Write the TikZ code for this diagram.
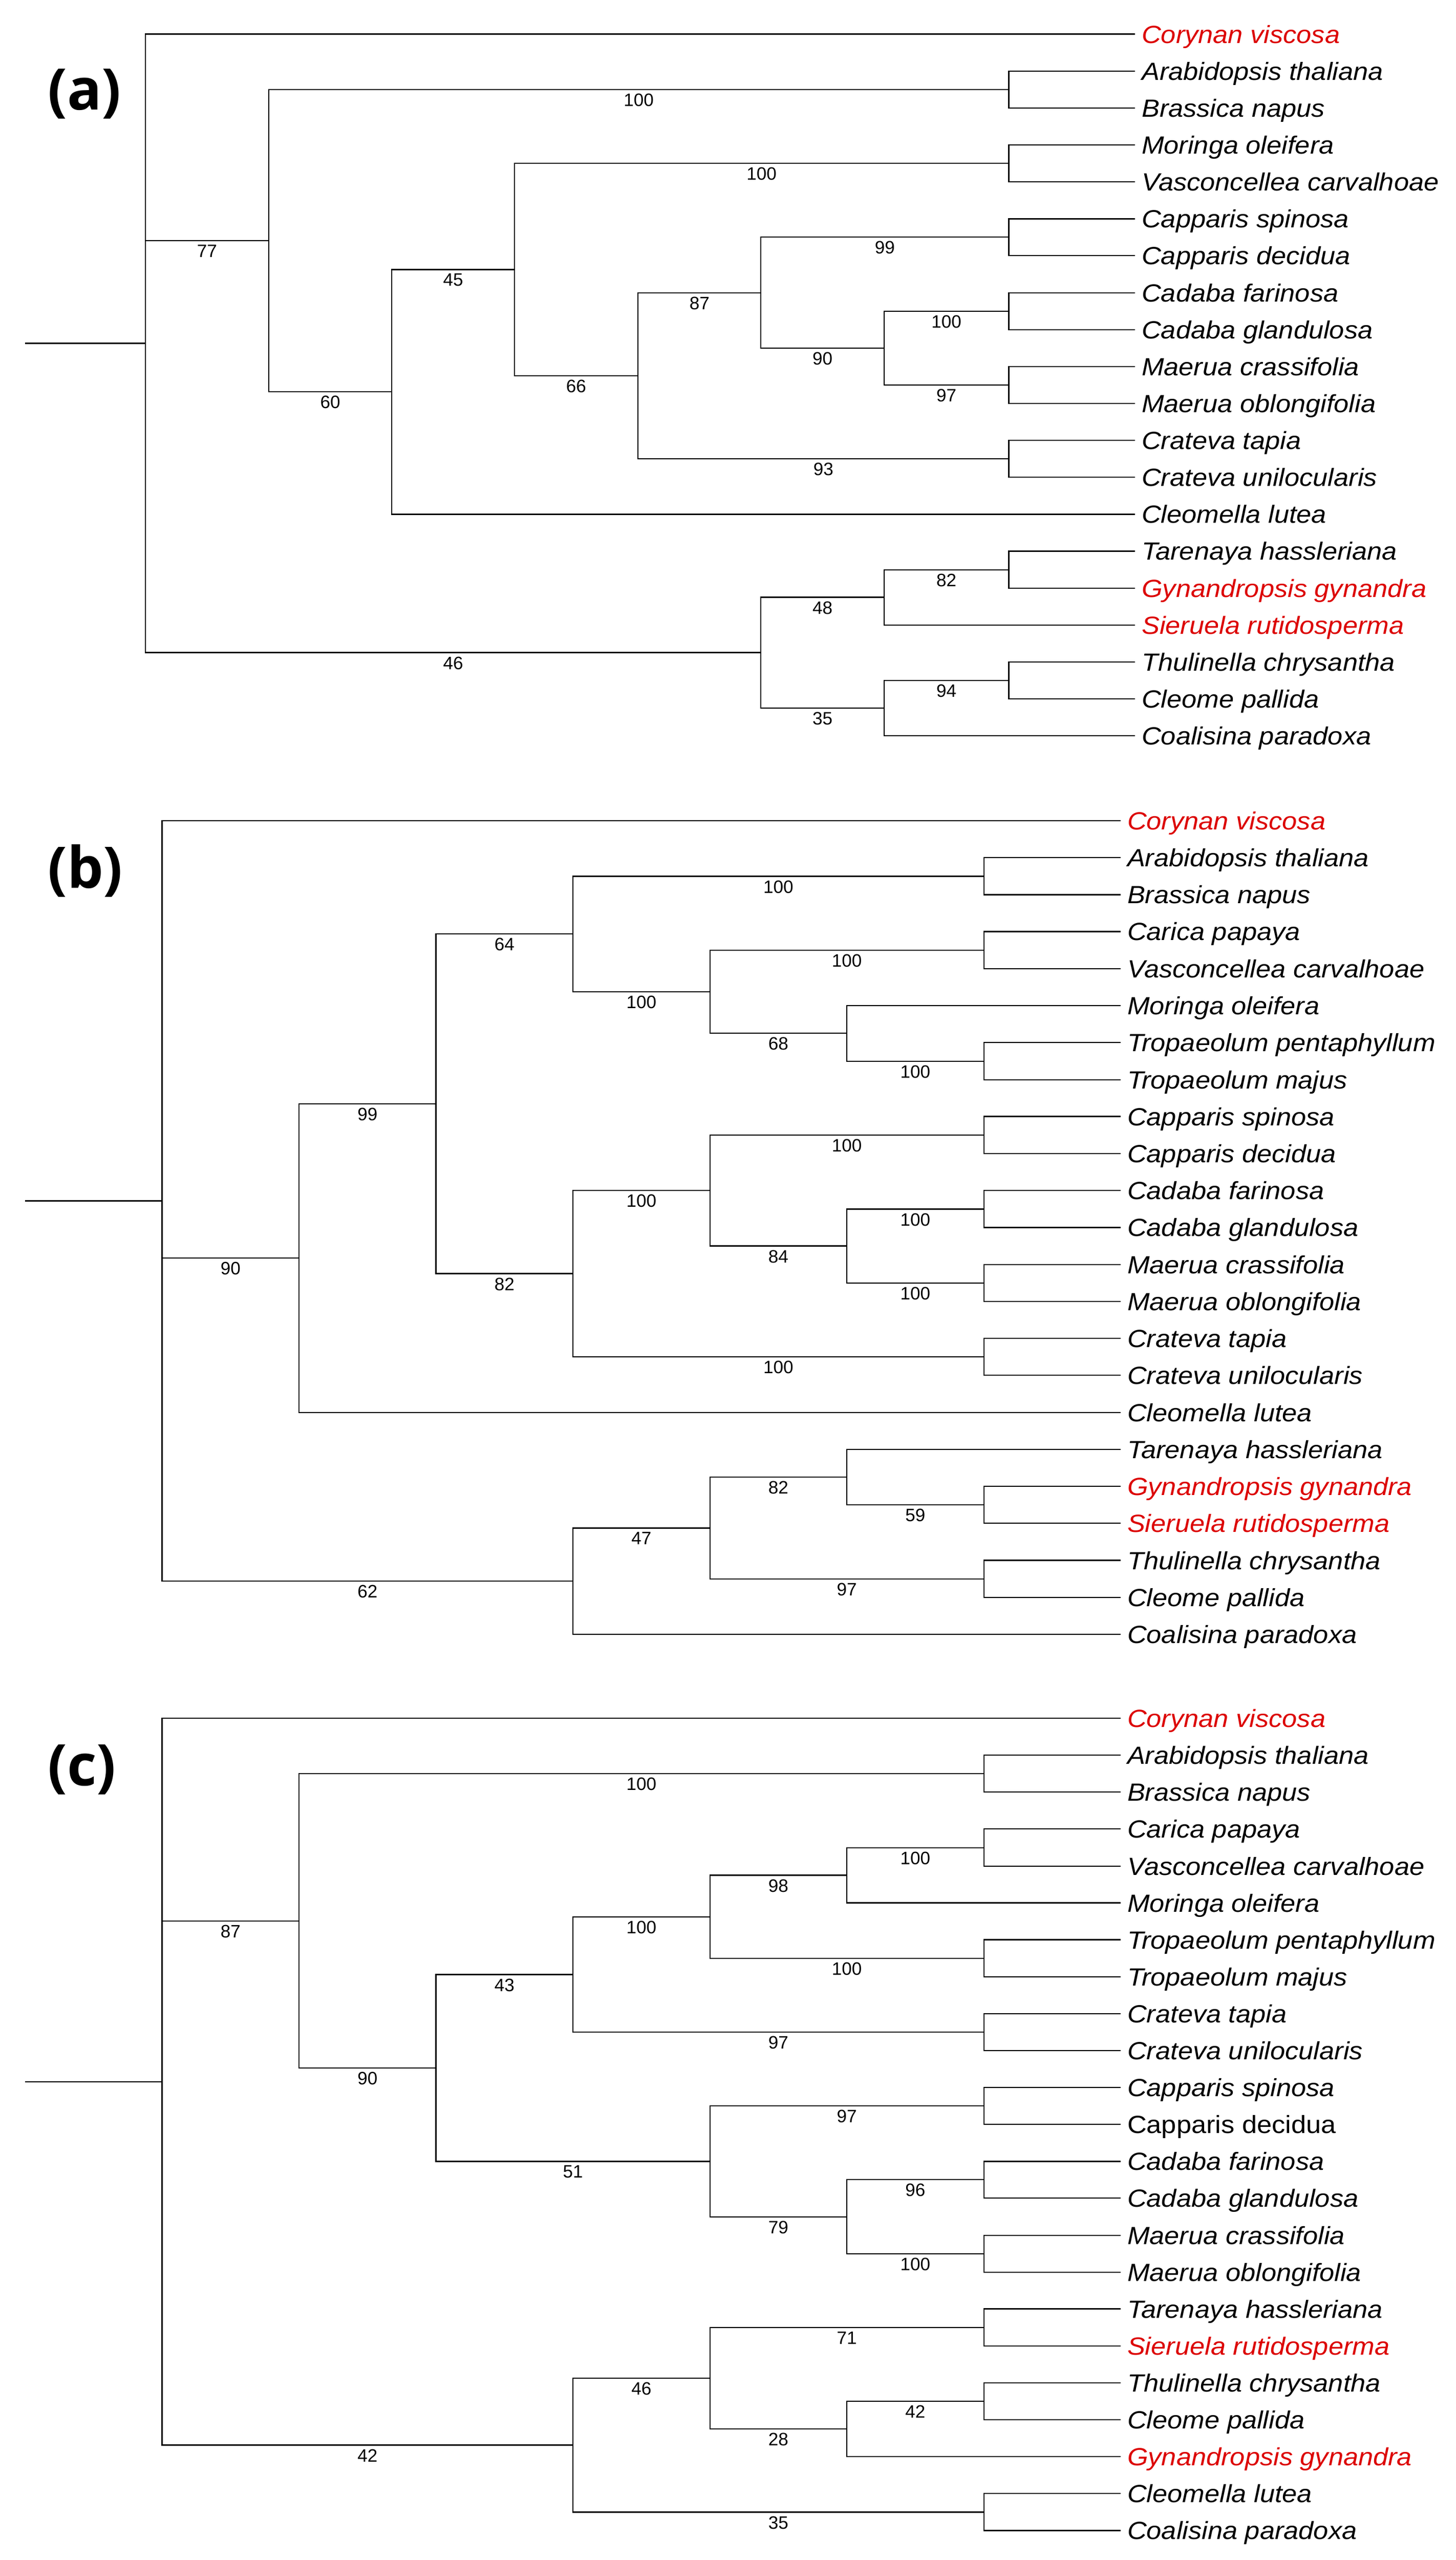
\documentclass[tikz,border=0pt]{standalone}
\usepackage{fontspec}
\usepackage{xcolor}
\usepackage{tikz}
\usetikzlibrary{positioning}
\newfontfamily\taxfont{Liberation Sans}[FakeStretch=1.08]
\newfontfamily\bootfont{Liberation Sans}
\newfontfamily\panelfont{Open Sans}
\newcommand{\spfont}{\taxfont\fontsize{13pt}{15pt}\selectfont\itshape}
\newcommand{\spupfont}{\taxfont\fontsize{13pt}{15pt}\selectfont}
\newcommand{\bsfont}{\bootfont\fontsize{9.4pt}{11pt}\selectfont}
\newcommand{\pnfont}{\panelfont\fontsize{30pt}{34pt}\selectfont\bfseries}
\definecolor{taxred}{RGB}{220, 0, 0}

\begin{document}
\begin{tikzpicture}[
    x=0.03cm, y=-0.03cm,
    branch/.style={draw=black, line width=0.6pt},
    taxon/.style={anchor=west, font=\spfont, inner xsep=0.12cm, inner ysep=0pt, text height=0.33cm, text depth=0pt},
    redtaxon/.style={taxon, text=taxred},
    boot/.style={pos=0.75, below=0.066cm, font=\bsfont, inner sep=0pt},
    panel/.style={anchor=base west, font=\pnfont, inner sep=0pt}
]
    \useasboundingbox (0,0) rectangle (893,1570);

    % ---------------- Panel (a) ----------------
    \node[panel] (aLabel) at (29, 67.5) {(a)};

    % Leaves
    \node[redtaxon] (aCoryn) at (696, 20.9) {Corynan viscosa};
    \node[taxon] (aArab) at (696, 43.6) {Arabidopsis thaliana};
    \node[taxon] (aBras) at (696, 66.2) {Brassica napus};
    \node[taxon] (aMori) at (696, 88.9) {Moringa oleifera};
    \node[taxon] (aVasc) at (696, 111.5) {Vasconcellea carvalhoae};
    \node[taxon] (aCspi) at (696, 134.2) {Capparis spinosa};
    \node[taxon] (aCdec) at (696, 156.8) {Capparis decidua};
    \node[taxon] (aCfar) at (696, 179.5) {Cadaba farinosa};
    \node[taxon] (aCgla) at (696, 202.1) {Cadaba glandulosa};
    \node[taxon] (aMcra) at (696, 224.8) {Maerua crassifolia};
    \node[taxon] (aMobl) at (696, 247.4) {Maerua oblongifolia};
    \node[taxon] (aCtap) at (696, 270.1) {Crateva tapia};
    \node[taxon] (aCuni) at (696, 292.7) {Crateva unilocularis};
    \node[taxon] (aClut) at (696, 315.4) {Cleomella lutea};
    \node[taxon] (aThas) at (696, 338.0) {Tarenaya hassleriana};
    \node[redtaxon] (aGgyn) at (696, 360.7) {Gynandropsis gynandra};
    \node[redtaxon] (aSrut) at (696, 383.3) {Sieruela rutidosperma};
    \node[taxon] (aTchr) at (696, 406.0) {Thulinella chrysantha};
    \node[taxon] (aCpal) at (696, 428.6) {Cleome pallida};
    \node[taxon] (aCpar) at (696, 451.3) {Coalisina paradoxa};

    % Internal nodes
    \coordinate (aStart) at (15.3, 210.5);
    \coordinate (aRoot) at (89.2, 210.5);
    \coordinate (a77) at (164.8, 147.6);
    \coordinate (aAB) at (618.7, 54.9);
    \coordinate (a60) at (240.3, 240.3);
    \coordinate (a45) at (315.5, 165.3);
    \coordinate (aMV) at (618.7, 100.2);
    \coordinate (a66) at (391.3, 230.4);
    \coordinate (aCrt) at (618.7, 281.4);
    \coordinate (a87) at (466.7, 179.5);
    \coordinate (aCap) at (618.7, 145.5);
    \coordinate (a90) at (542.2, 213.5);
    \coordinate (aCad) at (618.7, 190.8);
    \coordinate (aMae) at (618.7, 236.1);
    \coordinate (a46) at (466.7, 400.2);
    \coordinate (a48) at (542.2, 366.3);
    \coordinate (a82) at (618.7, 349.4);
    \coordinate (a35) at (542.2, 434.3);
    \coordinate (a94) at (618.7, 417.3);

    % Branches
    \draw[branch] (aStart) -- (aRoot);
    \draw[branch] (aRoot) |- (aCoryn);
    \draw[branch] (aRoot) |- (a77) node[boot] {77};
    \draw[branch] (aRoot) |- (a46) node[boot] {46};
    \draw[branch] (a77) |- (aAB) node[boot] {100};
    \draw[branch] (a77) |- (a60) node[boot] {60};
    \draw[branch] (aAB) |- (aArab);
    \draw[branch] (aAB) |- (aBras);
    \draw[branch] (a60) |- (a45) node[boot] {45};
    \draw[branch] (a60) |- (aClut);
    \draw[branch] (a45) |- (aMV) node[boot] {100};
    \draw[branch] (a45) |- (a66) node[boot] {66};
    \draw[branch] (aMV) |- (aMori);
    \draw[branch] (aMV) |- (aVasc);
    \draw[branch] (a66) |- (a87) node[boot] {87};
    \draw[branch] (a66) |- (aCrt) node[boot] {93};
    \draw[branch] (aCrt) |- (aCtap);
    \draw[branch] (aCrt) |- (aCuni);
    \draw[branch] (a87) |- (aCap) node[boot] {99};
    \draw[branch] (a87) |- (a90) node[boot] {90};
    \draw[branch] (aCap) |- (aCspi);
    \draw[branch] (aCap) |- (aCdec);
    \draw[branch] (a90) |- (aCad) node[boot] {100};
    \draw[branch] (a90) |- (aMae) node[boot] {97};
    \draw[branch] (aCad) |- (aCfar);
    \draw[branch] (aCad) |- (aCgla);
    \draw[branch] (aMae) |- (aMcra);
    \draw[branch] (aMae) |- (aMobl);
    \draw[branch] (a46) |- (a48) node[boot] {48};
    \draw[branch] (a46) |- (a35) node[boot] {35};
    \draw[branch] (a48) |- (a82) node[boot] {82};
    \draw[branch] (a48) |- (aSrut);
    \draw[branch] (a82) |- (aThas);
    \draw[branch] (a82) |- (aGgyn);
    \draw[branch] (a35) |- (a94) node[boot] {94};
    \draw[branch] (a35) |- (aCpar);
    \draw[branch] (a94) |- (aTchr);
    \draw[branch] (a94) |- (aCpal);

    % ---------------- Panel (b) ----------------
    \node[panel] (bLabel) at (29, 544.5) {(b)};

    % Leaves
    \node[redtaxon] (bCoryn) at (687.2, 503.3) {Corynan viscosa};
    \node[taxon] (bArab) at (687.2, 526.0) {Arabidopsis thaliana};
    \node[taxon] (bBras) at (687.2, 548.7) {Brassica napus};
    \node[taxon] (bCpap) at (687.2, 571.3) {Carica papaya};
    \node[taxon] (bVasc) at (687.2, 594.0) {Vasconcellea carvalhoae};
    \node[taxon] (bMori) at (687.2, 616.7) {Moringa oleifera};
    \node[taxon] (bTpen) at (687.2, 639.4) {Tropaeolum pentaphyllum};
    \node[taxon] (bTmaj) at (687.2, 662.1) {Tropaeolum majus};
    \node[taxon] (bCspi) at (687.2, 684.7) {Capparis spinosa};
    \node[taxon] (bCdec) at (687.2, 707.4) {Capparis decidua};
    \node[taxon] (bCfar) at (687.2, 730.1) {Cadaba farinosa};
    \node[taxon] (bCgla) at (687.2, 752.8) {Cadaba glandulosa};
    \node[taxon] (bMcra) at (687.2, 775.5) {Maerua crassifolia};
    \node[taxon] (bMobl) at (687.2, 798.1) {Maerua oblongifolia};
    \node[taxon] (bCtap) at (687.2, 820.8) {Crateva tapia};
    \node[taxon] (bCuni) at (687.2, 843.5) {Crateva unilocularis};
    \node[taxon] (bClut) at (687.2, 866.2) {Cleomella lutea};
    \node[taxon] (bThas) at (687.2, 888.9) {Tarenaya hassleriana};
    \node[redtaxon] (bGgyn) at (687.2, 911.5) {Gynandropsis gynandra};
    \node[redtaxon] (bSrut) at (687.2, 934.2) {Sieruela rutidosperma};
    \node[taxon] (bTchr) at (687.2, 956.9) {Thulinella chrysantha};
    \node[taxon] (bCpal) at (687.2, 979.6) {Cleome pallida};
    \node[taxon] (bCpar) at (687.2, 1002.3) {Coalisina paradoxa};

    % Internal nodes
    \coordinate (bStart) at (15.5, 736.5);
    \coordinate (bRoot) at (99.4, 736.5);
    \coordinate (b90) at (183.4, 771.6);
    \coordinate (b99) at (267.4, 677.0);
    \coordinate (b64) at (351.4, 572.8);
    \coordinate (bAB) at (603.4, 537.4);
    \coordinate (bN1) at (435.4, 608.2);
    \coordinate (bCV) at (603.4, 582.7);
    \coordinate (b68) at (519.4, 633.7);
    \coordinate (bTr) at (603.4, 650.8);
    \coordinate (b82) at (351.4, 781.1);
    \coordinate (bN2) at (435.4, 730.1);
    \coordinate (bCap) at (603.4, 696.1);
    \coordinate (b84) at (519.4, 764.1);
    \coordinate (bCad) at (603.4, 741.5);
    \coordinate (bMae) at (603.4, 786.8);
    \coordinate (bCrt) at (603.4, 832.2);
    \coordinate (b62) at (351.4, 969.7);
    \coordinate (b47) at (435.4, 937.1);
    \coordinate (b82l) at (519.4, 905.9);
    \coordinate (bGS) at (603.4, 922.9);
    \coordinate (bTC) at (603.4, 968.3);

    % Branches
    \draw[branch] (bStart) -- (bRoot);
    \draw[branch] (bRoot) |- (bCoryn);
    \draw[branch] (bRoot) |- (b90) node[boot] {90};
    \draw[branch] (bRoot) |- (b62) node[boot] {62};
    \draw[branch] (b90) |- (b99) node[boot] {99};
    \draw[branch] (b90) |- (bClut);
    \draw[branch] (b99) |- (b64) node[boot] {64};
    \draw[branch] (b99) |- (b82) node[boot] {82};
    \draw[branch] (b64) |- (bAB) node[boot] {100};
    \draw[branch] (b64) |- (bN1) node[boot] {100};
    \draw[branch] (bAB) |- (bArab);
    \draw[branch] (bAB) |- (bBras);
    \draw[branch] (bN1) |- (bCV) node[boot] {100};
    \draw[branch] (bN1) |- (b68) node[boot] {68};
    \draw[branch] (bCV) |- (bCpap);
    \draw[branch] (bCV) |- (bVasc);
    \draw[branch] (b68) |- (bMori);
    \draw[branch] (b68) |- (bTr) node[boot] {100};
    \draw[branch] (bTr) |- (bTpen);
    \draw[branch] (bTr) |- (bTmaj);
    \draw[branch] (b82) |- (bN2) node[boot] {100};
    \draw[branch] (b82) |- (bCrt) node[boot] {100};
    \draw[branch] (bN2) |- (bCap) node[boot] {100};
    \draw[branch] (bN2) |- (b84) node[boot] {84};
    \draw[branch] (bCap) |- (bCspi);
    \draw[branch] (bCap) |- (bCdec);
    \draw[branch] (b84) |- (bCad) node[boot] {100};
    \draw[branch] (b84) |- (bMae) node[boot] {100};
    \draw[branch] (bCad) |- (bCfar);
    \draw[branch] (bCad) |- (bCgla);
    \draw[branch] (bMae) |- (bMcra);
    \draw[branch] (bMae) |- (bMobl);
    \draw[branch] (bCrt) |- (bCtap);
    \draw[branch] (bCrt) |- (bCuni);
    \draw[branch] (b62) |- (b47) node[boot] {47};
    \draw[branch] (b62) |- (bCpar);
    \draw[branch] (b47) |- (b82l) node[boot] {82};
    \draw[branch] (b47) |- (bTC) node[boot] {97};
    \draw[branch] (b82l) |- (bThas);
    \draw[branch] (b82l) |- (bGS) node[boot] {59};
    \draw[branch] (bGS) |- (bGgyn);
    \draw[branch] (bGS) |- (bSrut);
    \draw[branch] (bTC) |- (bTchr);
    \draw[branch] (bTC) |- (bCpal);

    % ---------------- Panel (c) ----------------
    \node[panel] (cLabel) at (29, 1095) {(c)};

    % Leaves
    \node[redtaxon] (cCoryn) at (687.2, 1053.8) {Corynan viscosa};
    \node[taxon] (cArab) at (687.2, 1076.4) {Arabidopsis thaliana};
    \node[taxon] (cBras) at (687.2, 1099.1) {Brassica napus};
    \node[taxon] (cCpap) at (687.2, 1121.7) {Carica papaya};
    \node[taxon] (cVasc) at (687.2, 1144.4) {Vasconcellea carvalhoae};
    \node[taxon] (cMori) at (687.2, 1167.0) {Moringa oleifera};
    \node[taxon] (cTpen) at (687.2, 1189.6) {Tropaeolum pentaphyllum};
    \node[taxon] (cTmaj) at (687.2, 1212.3) {Tropaeolum majus};
    \node[taxon] (cCtap) at (687.2, 1234.9) {Crateva tapia};
    \node[taxon] (cCuni) at (687.2, 1257.6) {Crateva unilocularis};
    \node[taxon] (cCspi) at (687.2, 1280.2) {Capparis spinosa};
    \node[taxon, font=\spupfont] (cCdec) at (687.2, 1302.8) {Capparis decidua};
    \node[taxon] (cCfar) at (687.2, 1325.5) {Cadaba farinosa};
    \node[taxon] (cCgla) at (687.2, 1348.1) {Cadaba glandulosa};
    \node[taxon] (cMcra) at (687.2, 1370.8) {Maerua crassifolia};
    \node[taxon] (cMobl) at (687.2, 1393.4) {Maerua oblongifolia};
    \node[taxon] (cThas) at (687.2, 1416.0) {Tarenaya hassleriana};
    \node[redtaxon] (cSrut) at (687.2, 1438.7) {Sieruela rutidosperma};
    \node[taxon] (cTchr) at (687.2, 1461.3) {Thulinella chrysantha};
    \node[taxon] (cCpal) at (687.2, 1484.0) {Cleome pallida};
    \node[redtaxon] (cGgyn) at (687.2, 1506.6) {Gynandropsis gynandra};
    \node[taxon] (cClut) at (687.2, 1529.2) {Cleomella lutea};
    \node[taxon] (cCpar) at (687.2, 1551.9) {Coalisina paradoxa};

    % Internal nodes
    \coordinate (cStart) at (15.5, 1276.7);
    \coordinate (cRoot) at (99.4, 1276.7);
    \coordinate (c87) at (183.4, 1178.0);
    \coordinate (cAB) at (603.4, 1087.8);
    \coordinate (c90) at (267.4, 1268.2);
    \coordinate (c43) at (351.4, 1210.9);
    \coordinate (cN1) at (435.4, 1175.5);
    \coordinate (c98) at (519.4, 1150.0);
    \coordinate (cCV) at (603.4, 1133.1);
    \coordinate (cTr) at (603.4, 1201.0);
    \coordinate (cCrt) at (603.4, 1246.3);
    \coordinate (c51) at (435.4, 1325.5);
    \coordinate (cCap) at (603.4, 1291.5);
    \coordinate (c79) at (519.4, 1359.5);
    \coordinate (cCad) at (603.4, 1336.8);
    \coordinate (cMae) at (603.4, 1382.1);
    \coordinate (c42) at (351.4, 1499.5);
    \coordinate (c46) at (435.4, 1458.5);
    \coordinate (cTS) at (603.4, 1427.4);
    \coordinate (c28) at (519.4, 1489.6);
    \coordinate (cTC) at (603.4, 1472.7);
    \coordinate (cCC) at (603.4, 1540.6);

    % Branches
    \draw[branch] (cStart) -- (cRoot);
    \draw[branch] (cRoot) |- (cCoryn);
    \draw[branch] (cRoot) |- (c87) node[boot] {87};
    \draw[branch] (cRoot) |- (c42) node[boot] {42};
    \draw[branch] (c87) |- (cAB) node[boot] {100};
    \draw[branch] (c87) |- (c90) node[boot] {90};
    \draw[branch] (cAB) |- (cArab);
    \draw[branch] (cAB) |- (cBras);
    \draw[branch] (c90) |- (c43) node[boot] {43};
    \draw[branch] (c90) |- (c51) node[boot] {51};
    \draw[branch] (c43) |- (cN1) node[boot] {100};
    \draw[branch] (c43) |- (cCrt) node[boot] {97};
    \draw[branch] (cN1) |- (c98) node[boot] {98};
    \draw[branch] (cN1) |- (cTr) node[boot] {100};
    \draw[branch] (c98) |- (cCV) node[boot] {100};
    \draw[branch] (c98) |- (cMori);
    \draw[branch] (cCV) |- (cCpap);
    \draw[branch] (cCV) |- (cVasc);
    \draw[branch] (cTr) |- (cTpen);
    \draw[branch] (cTr) |- (cTmaj);
    \draw[branch] (cCrt) |- (cCtap);
    \draw[branch] (cCrt) |- (cCuni);
    \draw[branch] (c51) |- (cCap) node[boot] {97};
    \draw[branch] (c51) |- (c79) node[boot] {79};
    \draw[branch] (cCap) |- (cCspi);
    \draw[branch] (cCap) |- (cCdec);
    \draw[branch] (c79) |- (cCad) node[boot] {96};
    \draw[branch] (c79) |- (cMae) node[boot] {100};
    \draw[branch] (cCad) |- (cCfar);
    \draw[branch] (cCad) |- (cCgla);
    \draw[branch] (cMae) |- (cMcra);
    \draw[branch] (cMae) |- (cMobl);
    \draw[branch] (c42) |- (c46) node[boot] {46};
    \draw[branch] (c42) |- (cCC) node[boot] {35};
    \draw[branch] (c46) |- (cTS) node[boot] {71};
    \draw[branch] (c46) |- (c28) node[boot] {28};
    \draw[branch] (cTS) |- (cThas);
    \draw[branch] (cTS) |- (cSrut);
    \draw[branch] (c28) |- (cTC) node[boot] {42};
    \draw[branch] (c28) |- (cGgyn);
    \draw[branch] (cTC) |- (cTchr);
    \draw[branch] (cTC) |- (cCpal);
    \draw[branch] (cCC) |- (cClut);
    \draw[branch] (cCC) |- (cCpar);

\end{tikzpicture}
\end{document}
